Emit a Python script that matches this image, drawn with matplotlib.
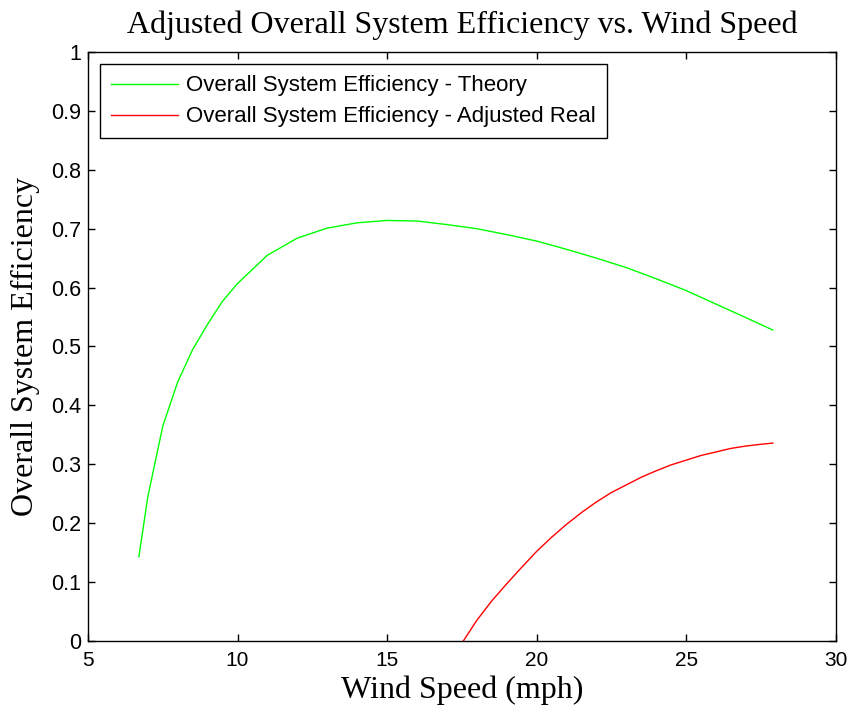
import matplotlib
matplotlib.use('Agg')
import matplotlib.pyplot as plt

# Theory curve
wind_theory = [6.7, 7.0, 7.5, 8.0, 8.5, 9.0, 9.5, 10.0, 11.0, 12.0, 13.0, 14.0, 15.0,
               16.0, 17.0, 18.0, 19.0, 20.0, 21.0, 22.0, 23.0, 24.0, 25.0, 26.0, 27.0, 27.9]
eff_theory = [0.143, 0.245, 0.365, 0.44, 0.495, 0.538, 0.577, 0.607, 0.655, 0.684, 0.701, 0.71, 0.714,
              0.713, 0.707, 0.70, 0.69, 0.679, 0.665, 0.65, 0.634, 0.615, 0.595, 0.572, 0.549, 0.528]

# Adjusted real curve
wind_real = [17.55, 18.0, 18.5, 19.0, 19.5, 20.0, 20.5, 21.0, 21.5, 22.0, 22.5, 23.0,
             23.5, 24.0, 24.5, 25.0, 25.5, 26.0, 26.5, 27.0, 27.5, 27.9]
eff_real = [0.0, 0.035, 0.068, 0.097, 0.125, 0.152, 0.176, 0.198, 0.218, 0.236, 0.252, 0.265,
            0.278, 0.289, 0.299, 0.307, 0.315, 0.321, 0.327, 0.331, 0.334, 0.336]

fig = plt.figure(figsize=(8.49, 7.12), dpi=100, facecolor='white')
ax = fig.add_axes([0.1037, 0.0997, 0.8805, 0.8273])

ax.plot(wind_theory, eff_theory, color='#00ff00', linewidth=1.0, label='Overall System Efficiency - Theory')
ax.plot(wind_real, eff_real, color='#ff0000', linewidth=1.0, label='Overall System Efficiency - Adjusted Real')

ax.set_xlim(5, 30)
ax.set_ylim(0, 1)
ax.set_xticks([5, 10, 15, 20, 25, 30])
ax.set_yticks([0, 0.1, 0.2, 0.3, 0.4, 0.5, 0.6, 0.7, 0.8, 0.9, 1])
ax.set_yticklabels(['0', '0.1', '0.2', '0.3', '0.4', '0.5', '0.6', '0.7', '0.8', '0.9', '1'])

ax.tick_params(direction='in', top=True, right=True, length=5, width=1,
               labelsize=15.5, pad=5)
ax.tick_params(axis='x', pad=7, labelsize=15)
for lbl in ax.get_xticklabels() + ax.get_yticklabels():
    lbl.set_fontfamily('Liberation Sans')
for s in ax.spines.values():
    s.set_linewidth(1.0)

ax.set_title('Adjusted Overall System Efficiency vs. Wind Speed', fontsize=23,
             fontfamily='Liberation Serif', pad=14)
ax.set_xlabel('Wind Speed (mph)', fontsize=23, fontfamily='Liberation Serif', labelpad=4)
ax.set_ylabel('Overall System Efficiency', fontsize=23, fontfamily='Liberation Serif', labelpad=8)

leg = ax.legend(loc='upper left', fancybox=False, framealpha=1, edgecolor='black',
                prop={'family': 'Liberation Sans', 'size': 16}, borderaxespad=0.55,
                handlelength=3.0, handletextpad=0.35, labelspacing=0.45, borderpad=0.5)
leg.get_frame().set_linewidth(1.0)

fig.savefig('out.png', dpi=100, facecolor='white')
